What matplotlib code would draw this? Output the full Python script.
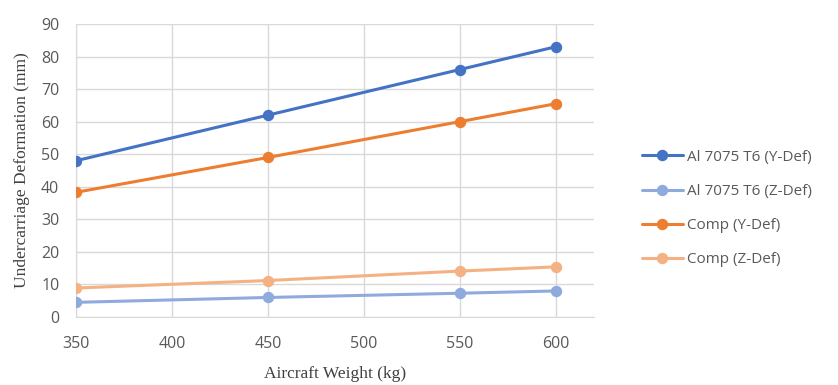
import matplotlib
matplotlib.use("Agg")
import matplotlib.pyplot as plt

weights = [350, 450, 550, 600]
al_y = [48, 62, 76, 83]
al_z = [4.5, 6.0, 7.3, 8.0]
comp_y = [38.3, 49, 60, 65.5]
comp_z = [8.9, 11.2, 14.1, 15.4]

series = [
    ("Al 7075 T6 (Y-Def)", al_y, "#4472C4"),
    ("Al 7075 T6 (Z-Def)", al_z, "#8FAADC"),
    ("Comp (Y-Def)", comp_y, "#ED7D31"),
    ("Comp (Z-Def)", comp_z, "#F4B183"),
]

W, H = 838, 385
fig = plt.figure(figsize=(W / 100, H / 100), dpi=100)
ax = fig.add_axes([76 / W, 1 - 317 / H, (594 - 76) / W, (317 - 24) / H])

for label, vals, color in series:
    ax.plot(weights, vals, color=color, lw=2.2, marker="o", ms=7.2,
            label=label, solid_capstyle="round", zorder=3)

ax.set_xlim(350, 620)
ax.set_ylim(0, 90)
ax.set_xticks([350, 400, 450, 500, 550, 600])
ax.set_yticks(range(0, 91, 10))
ax.grid(True, color="#D9D9D9", lw=1.0, zorder=0)
for s in ["top", "right"]:
    ax.spines[s].set_visible(False)
for s in ["left", "bottom"]:
    ax.spines[s].set_color("#D9D9D9")
ax.tick_params(length=0, colors="#595959", labelsize=11.5)
ax.tick_params(axis="x", pad=14)
ax.tick_params(axis="y", pad=12)
for t in ax.get_xticklabels() + ax.get_yticklabels():
    t.set_family("Open Sans")

ax.set_xlabel("Aircraft Weight (kg)", family="Liberation Serif", fontsize=12.5,
              color="#404040", labelpad=10)
ax.set_ylabel("Undercarriage Deformation (mm)", family="Liberation Serif",
              fontsize=12.5, color="#404040", labelpad=8)

leg = fig.legend(loc="upper left", bbox_to_anchor=(628 / W, 1 - 136 / H),
                 frameon=False, prop={"family": "Open Sans", "size": 11},
                 labelcolor="#595959", handlelength=2.7, labelspacing=1.25,
                 handletextpad=0.25, markerscale=1.0)

fig.savefig("out.png", dpi=100)
